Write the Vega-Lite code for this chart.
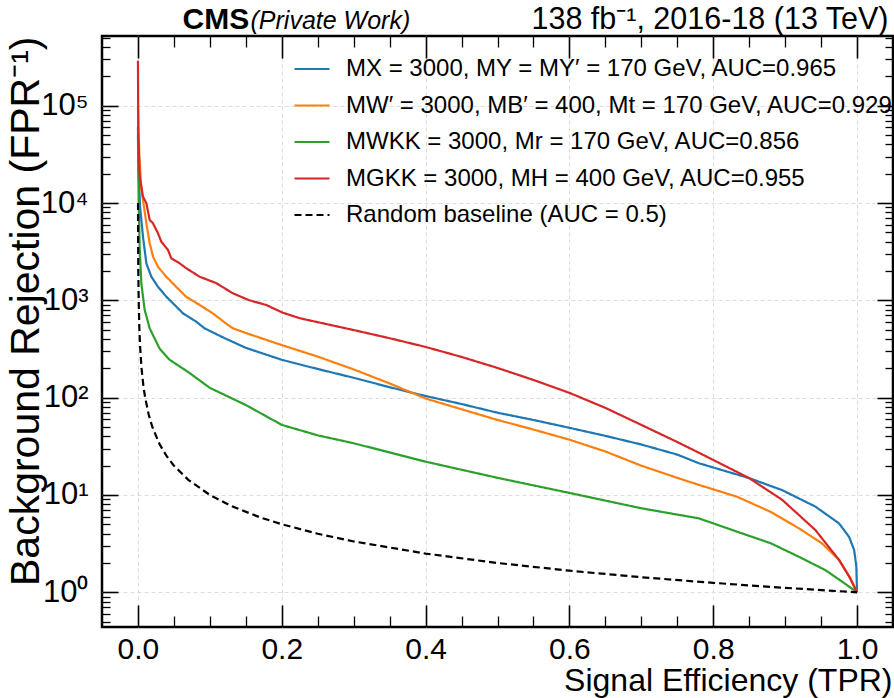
{
  "$schema": "https://vega.github.io/schema/vega-lite/v6.json",
  "width": 791,
  "height": 591,
  "autosize": {"type": "none"},
  "padding": {"left": 102, "top": 36, "right": 1, "bottom": 71},
  "background": "white",
  "config": {
    "font": "Liberation Sans",
    "view": {"stroke": "black", "strokeWidth": 2.5},
    "axis": {"domain": false, "labelColor": "black", "titleColor": "black", "tickColor": "black", "labelFlush": false}
  },
  "datasets": {
    "roc": [
      {"s": "X", "tpr": 0, "rej": 60000}, {"s": "X", "tpr": 0.001, "rej": 20000}, {"s": "X", "tpr": 0.003, "rej": 9000}, {"s": "X", "tpr": 0.0047, "rej": 6700}, {"s": "X", "tpr": 0.007, "rej": 4500}, {"s": "X", "tpr": 0.0117, "rej": 2400}, {"s": "X", "tpr": 0.0186, "rej": 1750}, {"s": "X", "tpr": 0.0278, "rej": 1380}, {"s": "X", "tpr": 0.0394, "rej": 1090}, {"s": "X", "tpr": 0.0464, "rej": 970}, {"s": "X", "tpr": 0.0625, "rej": 736}, {"s": "X", "tpr": 0.081, "rej": 604}, {"s": "X", "tpr": 0.0926, "rej": 516}, {"s": "X", "tpr": 0.12, "rej": 410}, {"s": "X", "tpr": 0.15, "rej": 325}, {"s": "X", "tpr": 0.2, "rej": 245}, {"s": "X", "tpr": 0.25, "rej": 197}, {"s": "X", "tpr": 0.3, "rej": 160}, {"s": "X", "tpr": 0.35, "rej": 128}, {"s": "X", "tpr": 0.4, "rej": 104}, {"s": "X", "tpr": 0.45, "rej": 86}, {"s": "X", "tpr": 0.5, "rej": 70}, {"s": "X", "tpr": 0.55, "rej": 59}, {"s": "X", "tpr": 0.6, "rej": 49}, {"s": "X", "tpr": 0.65, "rej": 40.5}, {"s": "X", "tpr": 0.7, "rej": 33}, {"s": "X", "tpr": 0.75, "rej": 26}, {"s": "X", "tpr": 0.78, "rej": 21.2}, {"s": "X", "tpr": 0.85, "rej": 14.9}, {"s": "X", "tpr": 0.896, "rej": 11.2}, {"s": "X", "tpr": 0.942, "rej": 7.6}, {"s": "X", "tpr": 0.975, "rej": 5.1}, {"s": "X", "tpr": 0.989, "rej": 3.7}, {"s": "X", "tpr": 0.996, "rej": 2.72}, {"s": "X", "tpr": 0.999, "rej": 1.83}, {"s": "X", "tpr": 1.0, "rej": 1},
      {"s": "Wp", "tpr": 0, "rej": 100000}, {"s": "Wp", "tpr": 0.002, "rej": 30000}, {"s": "Wp", "tpr": 0.0047, "rej": 14000}, {"s": "Wp", "tpr": 0.0077, "rej": 9900}, {"s": "Wp", "tpr": 0.0117, "rej": 6200}, {"s": "Wp", "tpr": 0.0163, "rej": 3860}, {"s": "Wp", "tpr": 0.021, "rej": 2810}, {"s": "Wp", "tpr": 0.028, "rej": 2200}, {"s": "Wp", "tpr": 0.0394, "rej": 1750}, {"s": "Wp", "tpr": 0.053, "rej": 1380}, {"s": "Wp", "tpr": 0.067, "rej": 1090}, {"s": "Wp", "tpr": 0.0857, "rej": 897}, {"s": "Wp", "tpr": 0.104, "rej": 736}, {"s": "Wp", "tpr": 0.122, "rej": 582}, {"s": "Wp", "tpr": 0.132, "rej": 516}, {"s": "Wp", "tpr": 0.15, "rej": 462}, {"s": "Wp", "tpr": 0.2, "rej": 347}, {"s": "Wp", "tpr": 0.25, "rej": 264}, {"s": "Wp", "tpr": 0.3, "rej": 195}, {"s": "Wp", "tpr": 0.35, "rej": 140}, {"s": "Wp", "tpr": 0.4, "rej": 98}, {"s": "Wp", "tpr": 0.45, "rej": 76}, {"s": "Wp", "tpr": 0.5, "rej": 59}, {"s": "Wp", "tpr": 0.55, "rej": 47}, {"s": "Wp", "tpr": 0.6, "rej": 37}, {"s": "Wp", "tpr": 0.65, "rej": 28}, {"s": "Wp", "tpr": 0.7, "rej": 20}, {"s": "Wp", "tpr": 0.75, "rej": 15}, {"s": "Wp", "tpr": 0.78, "rej": 12.7}, {"s": "Wp", "tpr": 0.833, "rej": 9.6}, {"s": "Wp", "tpr": 0.88, "rej": 6.7}, {"s": "Wp", "tpr": 0.919, "rej": 4.55}, {"s": "Wp", "tpr": 0.951, "rej": 3.19}, {"s": "Wp", "tpr": 0.975, "rej": 2.15}, {"s": "Wp", "tpr": 0.991, "rej": 1.39}, {"s": "Wp", "tpr": 1.0, "rej": 1},
      {"s": "WKK", "tpr": 0, "rej": 50000}, {"s": "WKK", "tpr": 0.001, "rej": 10000}, {"s": "WKK", "tpr": 0.0024, "rej": 3500}, {"s": "WKK", "tpr": 0.0047, "rej": 1500}, {"s": "WKK", "tpr": 0.0093, "rej": 800}, {"s": "WKK", "tpr": 0.0163, "rej": 516}, {"s": "WKK", "tpr": 0.03, "rej": 320}, {"s": "WKK", "tpr": 0.044, "rej": 245}, {"s": "WKK", "tpr": 0.07, "rej": 183}, {"s": "WKK", "tpr": 0.1, "rej": 126}, {"s": "WKK", "tpr": 0.15, "rej": 84}, {"s": "WKK", "tpr": 0.2, "rej": 52.5}, {"s": "WKK", "tpr": 0.25, "rej": 41}, {"s": "WKK", "tpr": 0.3, "rej": 34}, {"s": "WKK", "tpr": 0.4, "rej": 22}, {"s": "WKK", "tpr": 0.5, "rej": 15}, {"s": "WKK", "tpr": 0.6, "rej": 10.5}, {"s": "WKK", "tpr": 0.7, "rej": 7.3}, {"s": "WKK", "tpr": 0.78, "rej": 5.75}, {"s": "WKK", "tpr": 0.833, "rej": 4.2}, {"s": "WKK", "tpr": 0.88, "rej": 3.19}, {"s": "WKK", "tpr": 0.919, "rej": 2.32}, {"s": "WKK", "tpr": 0.956, "rej": 1.69}, {"s": "WKK", "tpr": 0.979, "rej": 1.29}, {"s": "WKK", "tpr": 1.0, "rej": 1},
      {"s": "GKK", "tpr": 0, "rej": 290000}, {"s": "GKK", "tpr": 0.0005, "rej": 50000}, {"s": "GKK", "tpr": 0.0024, "rej": 18700}, {"s": "GKK", "tpr": 0.0047, "rej": 14700}, {"s": "GKK", "tpr": 0.007, "rej": 11600}, {"s": "GKK", "tpr": 0.0117, "rej": 9950}, {"s": "GKK", "tpr": 0.0163, "rej": 6700}, {"s": "GKK", "tpr": 0.0208, "rej": 6200}, {"s": "GKK", "tpr": 0.0278, "rej": 4900}, {"s": "GKK", "tpr": 0.0325, "rej": 4000}, {"s": "GKK", "tpr": 0.0417, "rej": 3300}, {"s": "GKK", "tpr": 0.0464, "rej": 2700}, {"s": "GKK", "tpr": 0.058, "rej": 2400}, {"s": "GKK", "tpr": 0.067, "rej": 2140}, {"s": "GKK", "tpr": 0.0857, "rej": 1750}, {"s": "GKK", "tpr": 0.109, "rej": 1500}, {"s": "GKK", "tpr": 0.132, "rej": 1180}, {"s": "GKK", "tpr": 0.155, "rej": 1000}, {"s": "GKK", "tpr": 0.178, "rej": 898}, {"s": "GKK", "tpr": 0.201, "rej": 748}, {"s": "GKK", "tpr": 0.225, "rej": 655}, {"s": "GKK", "tpr": 0.3, "rej": 495}, {"s": "GKK", "tpr": 0.35, "rej": 408}, {"s": "GKK", "tpr": 0.4, "rej": 332}, {"s": "GKK", "tpr": 0.45, "rej": 262}, {"s": "GKK", "tpr": 0.5, "rej": 202}, {"s": "GKK", "tpr": 0.55, "rej": 152}, {"s": "GKK", "tpr": 0.6, "rej": 112}, {"s": "GKK", "tpr": 0.65, "rej": 78.5}, {"s": "GKK", "tpr": 0.7, "rej": 52.5}, {"s": "GKK", "tpr": 0.75, "rej": 35}, {"s": "GKK", "tpr": 0.78, "rej": 27.2}, {"s": "GKK", "tpr": 0.85, "rej": 14.9}, {"s": "GKK", "tpr": 0.896, "rej": 8.9}, {"s": "GKK", "tpr": 0.942, "rej": 4.37}, {"s": "GKK", "tpr": 0.975, "rej": 2.15}, {"s": "GKK", "tpr": 0.989, "rej": 1.45}, {"s": "GKK", "tpr": 1.0, "rej": 1},
      {"s": "R", "tpr": 0.0001, "rej": 10000}, {"s": "R", "tpr": 0.0002, "rej": 5000}, {"s": "R", "tpr": 0.0005, "rej": 2000}, {"s": "R", "tpr": 0.001, "rej": 1000}, {"s": "R", "tpr": 0.002, "rej": 500}, {"s": "R", "tpr": 0.003, "rej": 333}, {"s": "R", "tpr": 0.005, "rej": 200}, {"s": "R", "tpr": 0.0075, "rej": 133}, {"s": "R", "tpr": 0.01, "rej": 100}, {"s": "R", "tpr": 0.015, "rej": 66.7}, {"s": "R", "tpr": 0.02, "rej": 50}, {"s": "R", "tpr": 0.03, "rej": 33.3}, {"s": "R", "tpr": 0.04, "rej": 25}, {"s": "R", "tpr": 0.05, "rej": 20}, {"s": "R", "tpr": 0.07, "rej": 14.3}, {"s": "R", "tpr": 0.1, "rej": 10}, {"s": "R", "tpr": 0.13, "rej": 7.69}, {"s": "R", "tpr": 0.17, "rej": 5.88}, {"s": "R", "tpr": 0.2, "rej": 5}, {"s": "R", "tpr": 0.25, "rej": 4}, {"s": "R", "tpr": 0.3, "rej": 3.33}, {"s": "R", "tpr": 0.4, "rej": 2.5}, {"s": "R", "tpr": 0.5, "rej": 2}, {"s": "R", "tpr": 0.6, "rej": 1.667}, {"s": "R", "tpr": 0.7, "rej": 1.429}, {"s": "R", "tpr": 0.8, "rej": 1.25}, {"s": "R", "tpr": 0.9, "rej": 1.111}, {"s": "R", "tpr": 1.0, "rej": 1}
    ]
  },
  "data": {"name": "roc"},
  "resolve": {"axis": {"x": "independent", "y": "independent"}},
  "layer": [
    {
      "mark": {"type": "line", "strokeWidth": 2.2, "clip": true},
      "encoding": {
        "x": {"field": "tpr", "type": "quantitative",
          "scale": {"domain": [-0.05, 1.05], "nice": false, "zero": false},
          "axis": {"orient": "bottom", "values": [0, 0.2, 0.4, 0.6, 0.8, 1], "format": ".1f", "labelFontSize": 30, "labelPadding": 7, "ticks": false, "tickSize": 0,
            "grid": true, "gridColor": "#dcdcdc", "gridDash": [4, 3], "gridWidth": 1,
            "title": "Signal Efficiency (TPR)", "titleFontSize": 32, "titleFontWeight": "normal", "titleAnchor": "end", "titleAlign": "right", "titleBaseline": "alphabetic", "titleX": 790, "titleY": 63}},
        "y": {"field": "rej", "type": "quantitative",
          "scale": {"type": "log", "domain": [0.44, 520000], "nice": false},
          "axis": {"orient": "left", "values": [1, 10, 100, 1000, 10000, 100000],
            "labelExpr": "'10' + (datum.value < 5 ? '⁰' : datum.value < 50 ? '¹' : datum.value < 500 ? '²' : datum.value < 5000 ? '³' : datum.value < 50000 ? '⁴' : '⁵')",
            "labelFontSize": 31, "labelPadding": 14, "ticks": false, "tickSize": 0,
            "grid": true, "gridColor": "#dcdcdc", "gridDash": [4, 3], "gridWidth": 1,
            "title": "Background Rejection (FPR⁻¹)", "titleFontSize": 41, "titleFontWeight": "normal", "titleAngle": -90, "titleAnchor": "end", "titleAlign": "right", "titleBaseline": "alphabetic", "titleX": -64, "titleY": 0}},
        "color": {"field": "s", "type": "nominal",
          "scale": {"domain": ["X", "Wp", "WKK", "GKK", "R"], "range": ["#1f77b4", "#ff7f0e", "#2ca02c", "#d62728", "#000000"]},
          "legend": {"orient": "none", "legendX": 191, "legendY": 14, "title": null, "labelFontSize": 24, "labelLimit": 800, "labelOffset": 15, "rowPadding": 5.5,
            "symbolType": "stroke", "symbolSize": 1225, "symbolStrokeWidth": 2.2,
            "labelExpr": "datum.label == 'X' ? 'MX = 3000, MY = MY′ = 170 GeV, AUC=0.965' : datum.label == 'Wp' ? 'MW′ = 3000, MB′ = 400, Mt = 170 GeV, AUC=0.929' : datum.label == 'WKK' ? 'MWKK = 3000, Mr = 170 GeV, AUC=0.856' : datum.label == 'GKK' ? 'MGKK = 3000, MH = 400 GeV, AUC=0.955' : 'Random baseline (AUC = 0.5)'"}},
        "strokeDash": {"field": "s", "type": "nominal",
          "scale": {"domain": ["X", "Wp", "WKK", "GKK", "R"], "range": [[1, 0], [1, 0], [1, 0], [1, 0], [7, 4]]},
          "legend": {"orient": "none", "legendX": 191, "legendY": 14, "title": null}}
      }
    },
    {
      "mark": {"type": "line", "opacity": 0},
      "encoding": {
        "x": {"field": "tpr", "type": "quantitative", "scale": {"domain": [-0.05, 1.05], "nice": false, "zero": false},
          "axis": {"orient": "bottom", "offset": -22, "values": [0, 0.2, 0.4, 0.6, 0.8, 1], "labels": false, "grid": false, "ticks": true, "tickSize": 22, "tickWidth": 1.6, "title": null}},
        "y": {"field": "rej", "type": "quantitative", "scale": {"type": "log", "domain": [0.44, 520000], "nice": false},
          "axis": {"orient": "left", "offset": -16, "values": [1, 10, 100, 1000, 10000, 100000], "labels": false, "grid": false, "ticks": true, "tickSize": 16, "tickWidth": 1.6, "title": null}}
      }
    },
    {
      "mark": {"type": "line", "opacity": 0},
      "encoding": {
        "x": {"field": "tpr", "type": "quantitative", "scale": {"domain": [-0.05, 1.05], "nice": false, "zero": false},
          "axis": {"orient": "bottom", "offset": -11, "values": [0.05, 0.1, 0.15, 0.25, 0.3, 0.35, 0.45, 0.5, 0.55, 0.65, 0.7, 0.75, 0.85, 0.9, 0.95], "labels": false, "grid": false, "ticks": true, "tickSize": 11, "tickWidth": 1.3, "title": null}},
        "y": {"field": "rej", "type": "quantitative", "scale": {"type": "log", "domain": [0.44, 520000], "nice": false},
          "axis": {"orient": "left", "offset": -8, "values": [0.5, 0.6, 0.7, 0.8, 0.9, 2, 3, 4, 5, 6, 7, 8, 9, 20, 30, 40, 50, 60, 70, 80, 90, 200, 300, 400, 500, 600, 700, 800, 900, 2000, 3000, 4000, 5000, 6000, 7000, 8000, 9000, 20000, 30000, 40000, 50000, 60000, 70000, 80000, 90000, 200000, 300000, 400000, 500000], "labels": false, "grid": false, "ticks": true, "tickSize": 8, "tickWidth": 1.3, "title": null}}
      }
    },
    {
      "mark": {"type": "line", "opacity": 0},
      "encoding": {
        "x": {"field": "tpr", "type": "quantitative", "scale": {"domain": [-0.05, 1.05], "nice": false, "zero": false},
          "axis": {"orient": "top", "offset": -22, "values": [0, 0.2, 0.4, 0.6, 0.8, 1], "labels": false, "grid": false, "ticks": true, "tickSize": 22, "tickWidth": 1.6, "title": null}},
        "y": {"field": "rej", "type": "quantitative", "scale": {"type": "log", "domain": [0.44, 520000], "nice": false},
          "axis": {"orient": "right", "offset": -16, "values": [1, 10, 100, 1000, 10000, 100000], "labels": false, "grid": false, "ticks": true, "tickSize": 16, "tickWidth": 1.6, "title": null}}
      }
    },
    {
      "mark": {"type": "line", "opacity": 0},
      "encoding": {
        "x": {"field": "tpr", "type": "quantitative", "scale": {"domain": [-0.05, 1.05], "nice": false, "zero": false},
          "axis": {"orient": "top", "offset": -11, "values": [0.05, 0.1, 0.15, 0.25, 0.3, 0.35, 0.45, 0.5, 0.55, 0.65, 0.7, 0.75, 0.85, 0.9, 0.95], "labels": false, "grid": false, "ticks": true, "tickSize": 11, "tickWidth": 1.3, "title": null}},
        "y": {"field": "rej", "type": "quantitative", "scale": {"type": "log", "domain": [0.44, 520000], "nice": false},
          "axis": {"orient": "right", "offset": -8, "values": [0.5, 0.6, 0.7, 0.8, 0.9, 2, 3, 4, 5, 6, 7, 8, 9, 20, 30, 40, 50, 60, 70, 80, 90, 200, 300, 400, 500, 600, 700, 800, 900, 2000, 3000, 4000, 5000, 6000, 7000, 8000, 9000, 20000, 30000, 40000, 50000, 60000, 70000, 80000, 90000, 200000, 300000, 400000, 500000], "labels": false, "grid": false, "ticks": true, "tickSize": 8, "tickWidth": 1.3, "title": null}}
      }
    },
    {
      "mark": {"type": "line", "opacity": 0},
      "encoding": {
        "x": {"field": "tpr", "type": "quantitative", "scale": {"domain": [-0.05, 1.05], "nice": false, "zero": false},
          "axis": {"orient": "top", "labels": false, "grid": false, "ticks": false, "tickSize": 0, "values": [],
            "title": "CMS", "titleFontSize": 30, "titleFontWeight": "bold", "titleAnchor": "start", "titleAlign": "left", "titleBaseline": "alphabetic", "titleX": 80, "titleY": -8}},
        "y": {"field": "rej", "type": "quantitative", "scale": {"type": "log", "domain": [0.44, 520000], "nice": false}, "axis": null}
      }
    },
    {
      "mark": {"type": "line", "opacity": 0},
      "encoding": {
        "x": {"field": "tpr", "type": "quantitative", "scale": {"domain": [-0.05, 1.05], "nice": false, "zero": false},
          "axis": {"orient": "top", "labels": false, "grid": false, "ticks": false, "tickSize": 0, "values": [],
            "title": "(Private Work)", "titleFontSize": 25, "titleFontWeight": "normal", "titleFontStyle": "italic", "titleAnchor": "start", "titleAlign": "left", "titleBaseline": "alphabetic", "titleX": 148, "titleY": -8}},
        "y": {"field": "rej", "type": "quantitative", "scale": {"type": "log", "domain": [0.44, 520000], "nice": false}, "axis": null}
      }
    },
    {
      "mark": {"type": "line", "opacity": 0},
      "encoding": {
        "x": {"field": "tpr", "type": "quantitative", "scale": {"domain": [-0.05, 1.05], "nice": false, "zero": false},
          "axis": {"orient": "top", "labels": false, "grid": false, "ticks": false, "tickSize": 0, "values": [],
            "title": "138 fb⁻¹, 2016-18 (13 TeV)", "titleFontSize": 30.5, "titleFontWeight": "normal", "titleAnchor": "end", "titleAlign": "right", "titleBaseline": "alphabetic", "titleX": 786, "titleY": -8}},
        "y": {"field": "rej", "type": "quantitative", "scale": {"type": "log", "domain": [0.44, 520000], "nice": false}, "axis": null}
      }
    }
  ]
}
